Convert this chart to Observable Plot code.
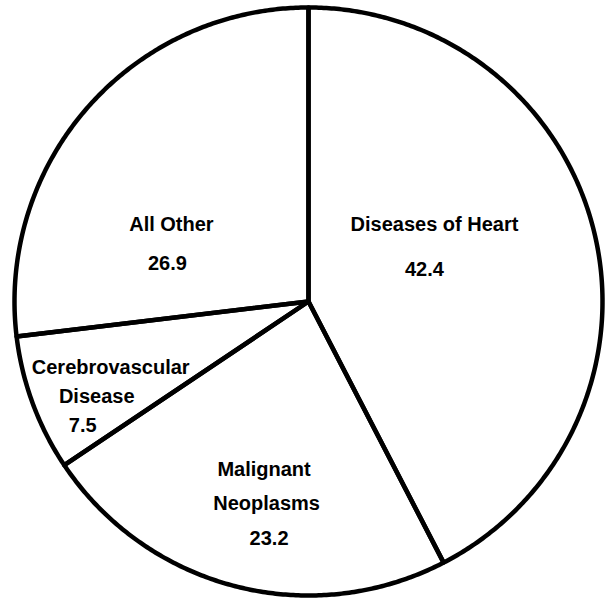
<!DOCTYPE html>
<html>
<head>
<meta charset="utf-8">
<script src="https://cdn.jsdelivr.net/npm/d3@7"></script>
<script src="https://cdn.jsdelivr.net/npm/@observablehq/plot@0.6"></script>
<style>
  html, body { margin: 0; padding: 0; background: #fff; }
  #chart svg { display: block; }
</style>
</head>
<body>
<div id="chart"></div>
<script>
// ---- data ----
const categories = ["Diseases of Heart", "Malignant Neoplasms", "Cerebrovascular Disease", "All Other"];
const values = [42.4, 23.2, 7.5, 26.9];
const labelLines = [["Diseases of Heart"], ["Malignant", "Neoplasms"], ["Cerebrovascular", "Disease"], ["All Other"]];

// ---- layout (label placement relative to each slice's mid-angle) ----
const labelAngleShift = [-10.5, -2.7, -3.9, -19.1];    // degrees
const labelRadius = [0.451, 0.703, 0.790, 0.512];       // fraction of radius
const labelSpacing = [45, 34.5, 29, 39];                // px between lines
const labelDrift = [-10, 2.5, -14, -4];                 // px horizontal drift per line
const R_PX = 294;

// ---- build slices ----
const total = d3.sum(values);
let acc = 0;
const slices = categories.map((c, i) => {
  const a0 = acc / total * 360;
  acc += values[i];
  const a1 = acc / total * 360;
  return {name: c, value: values[i], a0, a1, i};
});
const rad = d => d * Math.PI / 180;
const polar = (deg, r) => ({x: r * Math.sin(rad(deg)), y: r * Math.cos(rad(deg))});

const polyPoints = [];
for (const s of slices) {
  polyPoints.push({slice: s.name, ...polar(0, 0)});
  const n = Math.max(2, Math.ceil((s.a1 - s.a0) / 0.5));
  for (let k = 0; k <= n; k++) {
    const a = s.a0 + (s.a1 - s.a0) * k / n;
    polyPoints.push({slice: s.name, ...polar(a, 1)});
  }
}

const textRows = [];
for (const s of slices) {
  const lines = [...labelLines[s.i], d3.format(".1f")(s.value)];
  const anchor = polar((s.a0 + s.a1) / 2 + labelAngleShift[s.i], labelRadius[s.i]);
  const step = labelSpacing[s.i] / R_PX;
  const drift = labelDrift[s.i] / R_PX;
  lines.forEach((t, j) => {
    const off = j - (lines.length - 1) / 2;
    textRows.push({text: t, x: anchor.x + off * drift, y: anchor.y - off * step});
  });
}

const chart = Plot.plot({
  width: 607,
  height: 599,
  margin: 0,
  x: {domain: [-1, 1], range: [14, 602], axis: null},
  y: {domain: [-1, 1], range: [595, 7], axis: null},
  marks: [
    Plot.line(polyPoints, {
      x: "x", y: "y", z: "slice",
      curve: "linear-closed",
      fill: "white", stroke: "none"
    }),
    Plot.line(polyPoints, {
      x: "x", y: "y", z: "slice",
      curve: "linear-closed",
      fill: "none", stroke: "black", strokeWidth: 4.5,
      strokeLinejoin: "round"
    }),
    Plot.text(textRows, {
      x: "x", y: "y", text: "text",
      fontSize: 20, fontWeight: "bold",
      fontFamily: "'Liberation Sans', Arial, Helvetica, sans-serif",
      fill: "black", textAnchor: "middle", lineAnchor: "middle"
    })
  ]
});
document.getElementById("chart").appendChild(chart);
</script>
</body>
</html>
